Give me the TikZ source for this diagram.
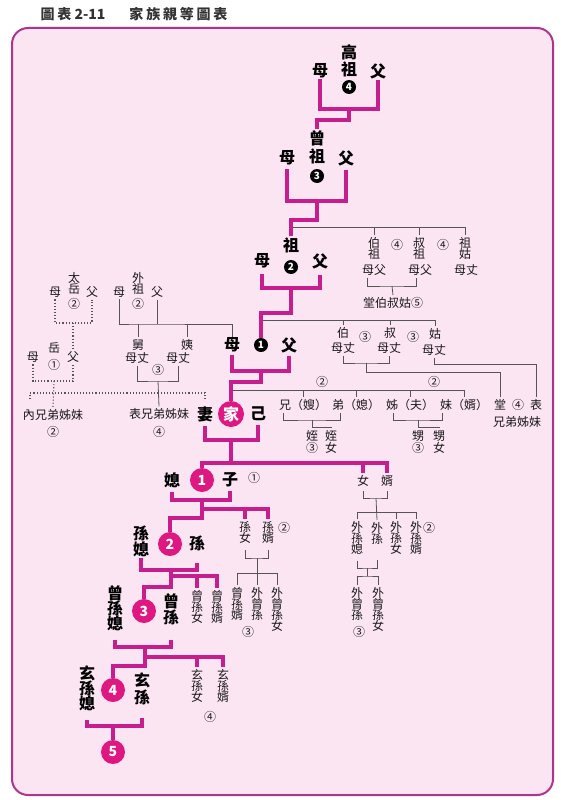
\documentclass[tikz,border=0pt]{standalone}
\usepackage{fontspec}
\setmainfont{Noto Sans CJK TC}
\newfontfamily\titlefont[LetterSpace=20]{Noto Sans CJK TC}
\usepackage{tikz}
\definecolor{bgpink}{RGB}{252,229,243}
\definecolor{framepink}{RGB}{176,52,140}
\definecolor{linepink}{RGB}{198,30,140}
\definecolor{degpink}{RGB}{222,24,128}
\definecolor{linegray}{RGB}{85,85,85}
\definecolor{txtgray}{RGB}{25,25,25}
\definecolor{titlegray}{RGB}{50,50,50}
\lineskiplimit=-20pt

\begin{document}
\begin{tikzpicture}[x=1pt, y=-1pt,
    big/.style={font=\fontsize{16}{16}\selectfont\bfseries, inner sep=1pt, align=center, text=black},
    sm/.style={font=\fontsize{12}{11}\selectfont, inner sep=2pt, align=center, text=txtgray},
    gen/.style={circle, fill=black, text=white, minimum size=14pt, inner sep=0pt,
                font=\fontsize{10}{10}\selectfont\bfseries},
    deg/.style={circle, fill=degpink, text=white, minimum size=24pt, inner sep=0pt,
                font=\fontsize{14}{14}\selectfont\bfseries},
    main/.style={draw=linepink, line width=3.5pt},
    thin/.style={draw=linegray, line width=0.8pt},
    dot/.style={draw=linegray, line width=1.1pt, dotted}
  ]
  \useasboundingbox (0,0) rectangle (560,800);
  \fill[white] (0,0) rectangle (560,800);
  \node[anchor=west, font=\fontsize{14}{14}\selectfont\bfseries, text=titlegray] (title) at (37,14)
    {{\titlefont\bfseries 圖表} 2-11\hspace{24pt}{\titlefont\bfseries 家族親等圖表}};
  \draw[draw=framepink, fill=bgpink, line width=2pt, rounded corners=16pt] (12,28) rectangle (553,795);

  \node[big, font=\fontsize{16}{17}\selectfont\bfseries] (gg4) at (349,61) {高\\祖};
  \node[gen] (n4) at (349,87) {4};
  \node[big] (m4) at (320,71) {母};
  \node[big] (f4) at (378,71) {父};
  \coordinate (j4) at (349,109);
  \coordinate (k4) at (317,120);

  \node[big, font=\fontsize{16}{18}\selectfont\bfseries] (gg3) at (317,147) {曾\\祖};
  \node[gen] (n3) at (317,176) {3};
  \node[big] (m3) at (287,158) {母};
  \node[big] (f3) at (346,158) {父};
  \coordinate (j3) at (317,201);
  \coordinate (k3) at (291,220);

  \node[big] (g2) at (291,245) {祖};
  \node[gen] (n2) at (291,267) {2};
  \node[big] (m2) at (262,261) {母};
  \node[big] (f2) at (320,261) {父};
  \coordinate (j2) at (291,288);
  \coordinate (k2) at (261,313);

  \node[gen] (n1) at (261,345) {1};
  \node[big] (m1) at (232,345) {母};
  \node[big] (f1) at (289,345) {父};
  \coordinate (j1) at (261,371);
  \coordinate (k1) at (231,382);

  \node[deg, minimum size=26pt, font=\fontsize{16}{16}\selectfont\bfseries] (ego) at (231,414) {家};
  \node[big] (wife) at (205,414) {妻};
  \node[big] (self) at (258,414) {己};
  \coordinate (j0) at (231,440);
  \coordinate (k0) at (202,463);
  \coordinate (r0) at (387,463);

  \node[deg] (d1) at (202,480) {1};
  \node[big] (dil1) at (172,480) {媳};
  \node[big] (son) at (230,480) {子};
  \node[sm] (sond) at (254,478) {①};
  \coordinate (j1b) at (202,500);
  \coordinate (k1b) at (170,518);
  \coordinate (r1b) at (268,509);

  \node[deg] (d2) at (170,544) {2};
  \node[big] (gs) at (197,543) {孫};
  \node[big] (gsw) at (141,541) {孫\\媳};
  \coordinate (j2b) at (171,570);
  \coordinate (k2b) at (144,587);
  \coordinate (r2b) at (217,576);

  \node[deg] (d3) at (144,611) {3};
  \node[big] (ggs) at (171,609) {曾\\孫};
  \node[big, font=\fontsize{16}{15}\selectfont\bfseries] (ggsw) at (115,608) {曾\\孫\\媳};
  \coordinate (j3b) at (145,647);
  \coordinate (k3b) at (113,666);
  \coordinate (r3b) at (223,657);

  \node[deg] (d4) at (113,690) {4};
  \node[big, font=\fontsize{16}{17}\selectfont\bfseries] (g3s) at (142,689) {玄\\孫};
  \node[big, font=\fontsize{16}{15}\selectfont\bfseries] (g3w) at (87,688) {玄\\孫\\媳};
  \coordinate (j4b) at (113,726);
  \node[deg] (d5) at (113,752) {5};

  \coordinate (b2) at (291,227);
  \node[sm] (bz) at (374,248) {伯\\祖};
  \node[sm] (bzd) at (397,245) {④};
  \node[sm] (sz) at (419,248) {叔\\祖};
  \node[sm] (szd) at (443,245) {④};
  \node[sm] (zg) at (465,248) {祖\\姑};
  \node[sm] (bzp) at (374,270) {母父};
  \node[sm] (szp) at (420,270) {母父};
  \node[sm] (zgp) at (466,270) {母丈};
  \node[sm] (tbs) at (393,303) {堂伯叔姑⑤};
  \coordinate (tj) at (392,286);
  \draw[thin] (b2) -| (zg.north);
  \draw[thin] (bz.north |- b2) -- (bz.north);
  \draw[thin] (sz.north |- b2) -- (sz.north);
  \draw[thin] ([xshift=-7pt]bzp.south) |- (tj) -| ([xshift=-4pt]szp.south);
  \draw[thin] (tj) -- (tbs.north);

  \coordinate (b1) at (261,320);
  \node[sm] (bo) at (343,333) {伯};
  \node[sm] (bod) at (365,337) {③};
  \node[sm] (sh) at (390,333) {叔};
  \node[sm] (shd) at (413,337) {③};
  \node[sm] (gu) at (435,334) {姑};
  \node[sm] (bop) at (343,348) {母丈};
  \node[sm] (shp) at (389,348) {母丈};
  \node[sm] (gup) at (434,350) {母丈};
  \node[sm] (tang) at (500,405) {堂};
  \node[sm] (tbd) at (518,405) {④};
  \node[sm] (biao) at (536,405) {表};
  \node[sm] (xd2) at (517,422) {兄弟姊妹};
  \coordinate (tj1) at (366,363);
  \coordinate (tk1) at (500,372);
  \coordinate (tk2) at (536,364);
  \draw[thin] (b1) -| (gu.north);
  \draw[thin] (bo.north |- b1) -- (bo.north);
  \draw[thin] (sh.north |- b1) -- (sh.north);
  \draw[thin] (bop.south) |- (tj1) -| (shp.south);
  \draw[thin] (tj1) |- (tk1) -- (tang.north);
  \draw[thin] (gup.south) |- (tk2) -- (biao.north);

  \coordinate (b0) at (231,390);
  \node[sm] (s1) at (322,382) {②};
  \node[sm] (s2) at (434,382) {②};
  \node[sm] (xd) at (303,405) {兄（嫂）};
  \node[sm] (dd) at (356,405) {弟（媳）};
  \node[sm] (zf) at (410,405) {姊（夫）};
  \node[sm] (mx) at (464,405) {妹（婿）};
  \draw[thin] (b0) -| (mx.north);
  \draw[thin] (xd.north |- b0) -- (xd.north);
  \draw[thin] (dd.north |- b0) -- (dd.north);
  \draw[thin] (zf.north |- b0) -- (zf.north);
  \coordinate (nj) at (312,420);
  \coordinate (nk) at (312,427);
  \node[sm, font=\fontsize{12}{12}\selectfont] (nep) at (312,442) {姪\\③};
  \node[sm, font=\fontsize{12}{12}\selectfont] (nie) at (331,442) {姪\\女};
  \draw[thin] ([xshift=-20pt]xd.south) |- (nj) -| ([xshift=-16pt]dd.south);
  \draw[thin] (nj) -- (nep.north);
  \draw[thin] (nk) -| (nie.north);
  \coordinate (wj) at (418,420);
  \coordinate (wk) at (418,427);
  \node[sm, font=\fontsize{12}{12}\selectfont] (neph) at (418,442) {甥\\③};
  \node[sm, font=\fontsize{12}{12}\selectfont] (nieh) at (439,442) {甥\\女};
  \draw[thin] ([xshift=-17pt]zf.south) |- (wj) -| ([xshift=-22pt]mx.south);
  \draw[thin] (wj) -- (neph.north);
  \draw[thin] (wk) -| (nieh.north);

  \node[sm] (dau) at (363,481) {女};
  \node[sm] (sil) at (387,481) {婿};
  \coordinate (dj) at (376,498);
  \coordinate (dk) at (416,512);
  \node[sm] (wgw) at (357,538) {外\\孫\\媳};
  \node[sm] (wgs) at (377,533) {外\\孫};
  \node[sm] (wgd) at (396,538) {外\\孫\\女};
  \node[sm] (wgsil) at (416,538) {外\\孫\\婿};
  \node[sm] (wgdeg) at (429,528) {②};
  \draw[thin, shorten <=2pt, shorten >=2pt] (dau.south) |- (dj) -| (sil.south);
  \draw[thin] (wgw.north) |- (dk) -- (wgsil.north);
  \draw[thin] (dj) -- (wgs.north);
  \draw[thin] (wgd.north |- dk) -- (wgd.north);
  \coordinate (ej) at (367,568);
  \coordinate (ek) at (367,576);
  \node[sm] (wgg) at (357,604) {外\\曾\\孫};
  \node[sm] (wggd) at (378,609) {外\\曾\\孫\\女};
  \node[sm] (wggdeg) at (359,632) {③};
  \draw[thin, shorten <=4pt, shorten >=14pt] (wgw.south) |- (ej) -| (wgs.south);
  \draw[thin] (ej) -- (ek);
  \draw[thin] (wgg.north) |- (ek) -| (wggd.north);

  \node[sm] (gdau) at (245,532) {孫\\女};
  \node[sm] (gsil) at (268,532) {孫\\婿};
  \node[sm] (gdeg) at (284,528) {②};
  \coordinate (gj) at (257,558);
  \coordinate (gk) at (277,573);
  \node[sm] (ggsilB) at (237,604) {曾\\孫\\婿};
  \node[sm] (wgg2) at (257,604) {外\\曾\\孫};
  \node[sm] (wggd2) at (277,609) {外\\曾\\孫\\女};
  \node[sm] (ggdeg2) at (248,632) {③};
  \draw[thin, shorten <=5pt, shorten >=5pt] (gdau.south) |- (gj) -| (gsil.south);
  \draw[thin] (ggsilB.north) |- (gk) -- (wggd2.north);
  \draw[thin] (gj) -- (wgg2.north);

  \node[sm] (ggdau) at (197,607) {曾\\孫\\女};
  \node[sm] (ggsilA) at (217,607) {曾\\孫\\婿};
  \node[sm] (g3dau) at (197,686) {玄\\孫\\女};
  \node[sm] (g3sil) at (223,686) {玄\\孫\\婿};
  \node[sm] (g3deg) at (210,717) {④};

  \node[sm] (tyue) at (74,283) {太\\岳};
  \node[sm] (tyd) at (74,304) {②};
  \node[sm] (tym) at (55,292) {母};
  \node[sm] (tyf) at (92,292) {父};
  \coordinate (tyj) at (73,323);
  \node[sm] (yue) at (54,348) {岳};
  \node[sm] (yued) at (54,365) {①};
  \node[sm] (yuem) at (33,357) {母};
  \node[sm] (yuef) at (73,357) {父};
  \coordinate (yj) at (54,381);
  \node[sm] (nxd) at (53,415) {內兄弟姊妹};
  \node[sm] (nxdd) at (53,432) {②};
  \coordinate (dl0) at (30,393);
  \coordinate (dl1) at (30,398);
  \draw[dot] (tym.south) |- (tyj) -| (tyf.south);
  \draw[dot] (tyj) -- (yuef.north);
  \draw[dot] (yuem.south) |- (yj) -| (yuef.south);
  \draw[dot] (yj) -- (nxd.north);
  \draw[dot, shorten <=6pt] (wife.north) |- (dl0) -- (dl1);

  \node[sm] (wz) at (138,283) {外\\祖};
  \node[sm] (wzd) at (138,304) {②};
  \node[sm] (wzm) at (119,292) {母};
  \node[sm] (wzf) at (157,292) {父};
  \coordinate (wzj) at (138,324);
  \node[sm] (jiu) at (138,345) {舅};
  \node[sm] (yi) at (187,345) {姨};
  \node[sm] (jiup) at (137,358) {母丈};
  \node[sm] (yip) at (178,358) {母丈};
  \node[sm] (jyd) at (158,370) {③};
  \coordinate (jyj) at (158,381);
  \node[sm] (bxd) at (159,414) {表兄弟姊妹};
  \node[sm] (bxdd) at (159,432) {④};
  \draw[thin] (wzm.south) |- (wzj) -| (m1.north);
  \draw[thin] (wzf.south) -- (wzf.south |- wzj);
  \draw[thin] (wzj) -- (jiu.north);
  \draw[thin] (yi.north |- wzj) -- (yi.north);
  \draw[thin] (jiup.south) |- (jyj) -| (yip.south);
  \draw[thin] (jyj) -- (bxd.north);

  \draw[main] (m4.south) |- (j4) -| (f4.south);
  \draw[main] (j4) |- (k4) -- (gg3.north);
  \draw[main, shorten <=3pt, shorten >=3pt] (m3.south) |- (j3) -| (f3.south);
  \draw[main] (j3) |- (k3) -- (g2.north);
  \draw[main, shorten <=5pt, shorten >=5pt] (m2.south) |- (j2) -| (f2.south);
  \draw[main] (j2) |- (k2) -- (n1.north);
  \draw[main, shorten <=2pt, shorten >=2pt] (m1.south) |- (j1) -| (f1.south);
  \draw[main] (j1) |- (k1) -- (ego.north);
  \draw[main, shorten <=3pt, shorten >=3pt] (wife.south) |- (j0) -| (self.south);
  \draw[main] (j0) |- (k0) -- (d1.north);
  \draw[main] (j0 |- k0) -- (r0) -- (sil.north);
  \draw[main] (dau.north |- r0) -- (dau.north);
  \draw[main, shorten <=3pt, shorten >=3pt] (dil1.south) |- (j1b) -| (son.south);
  \draw[main] (j1b) |- (k1b) -- (d2.north);
  \draw[main] (j1b |- r1b) -- (r1b) -- (gsil.north);
  \draw[main] (gdau.north |- r1b) -- (gdau.north);
  \draw[main, shorten >=11pt] (gsw.south) |- (j2b) -| (gs.south);
  \draw[main] (j2b) |- (k2b) -- (d3.north);
  \draw[main] (j2b |- r2b) -- (r2b) -- (ggsilA.north);
  \draw[main] (ggdau.north |- r2b) -- (ggdau.north);
  \draw[main, shorten <=8pt, shorten >=14pt] (ggsw.south) |- (j3b) -| (ggs.south);
  \draw[main] (j3b) |- (k3b) -- (d4.north);
  \draw[main] (j3b |- r3b) -- (r3b) -- (g3sil.north);
  \draw[main] (g3dau.north |- r3b) -- (g3dau.north);
  \draw[main, shorten <=8pt, shorten >=12pt] (g3w.south) |- (j4b) -| (g3s.south);
  \draw[main] (j4b) -- (d5.north);
\end{tikzpicture}
\end{document}
